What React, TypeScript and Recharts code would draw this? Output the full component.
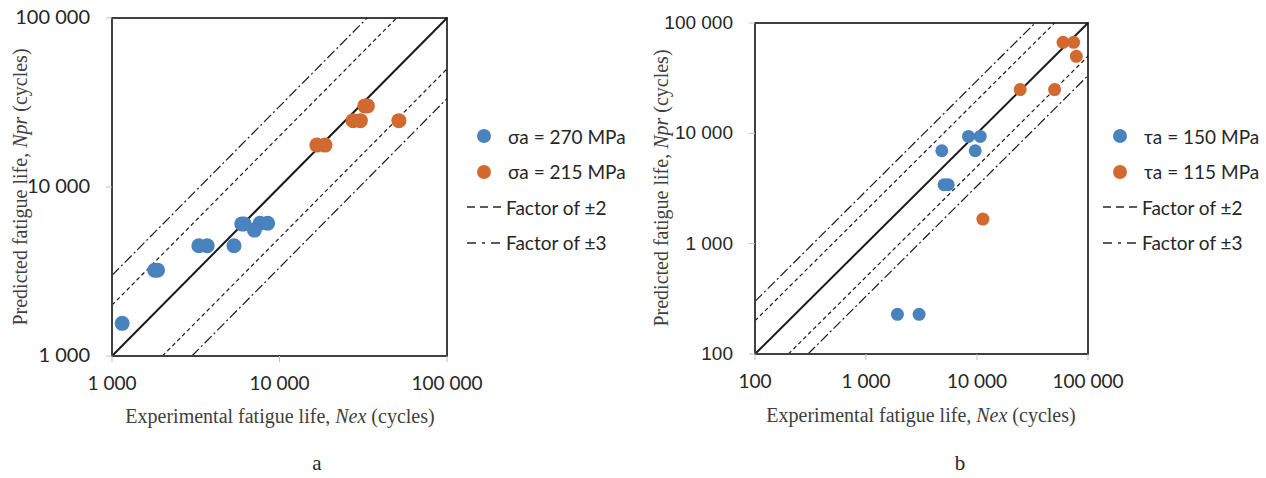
import React from 'react';
import {
  ScatterChart,
  Scatter,
  XAxis,
  YAxis,
  ReferenceLine,
  ReferenceArea,
} from 'recharts';

// chart a: normal stress
const leftTicks = [1000, 10000, 100000];
const sigma270 = [
  { x: 1150, y: 1560 },
  { x: 1800, y: 3220 },
  { x: 1870, y: 3220 },
  { x: 3300, y: 4490 },
  { x: 3700, y: 4490 },
  { x: 5350, y: 4490 },
  { x: 5950, y: 6050 },
  { x: 6150, y: 6050 },
  { x: 7080, y: 5560 },
  { x: 7650, y: 6100 },
  { x: 8500, y: 6100 },
];
const sigma215 = [
  { x: 16700, y: 17700 },
  { x: 18700, y: 17700 },
  { x: 27500, y: 24700 },
  { x: 30400, y: 24700 },
  { x: 32300, y: 30200 },
  { x: 33500, y: 30200 },
  { x: 51600, y: 24700 },
];

// chart b: shear stress
const rightTicks = [100, 1000, 10000, 100000];
const tau150 = [
  { x: 1920, y: 229 },
  { x: 3010, y: 229 },
  { x: 5050, y: 3420 },
  { x: 5500, y: 3420 },
  { x: 4820, y: 6950 },
  { x: 9640, y: 6950 },
  { x: 8380, y: 9380 },
  { x: 10700, y: 9380 },
];
const tau115 = [
  { x: 11300, y: 1670 },
  { x: 24500, y: 24900 },
  { x: 50000, y: 24900 },
  { x: 59600, y: 66800 },
  { x: 74300, y: 66800 },
  { x: 78500, y: 49900 },
];

const factorLines = [
  { f: 1, dash: undefined as string | undefined, width: 2 },
  { f: 2, dash: '4 3', width: 1.2 },
  { f: 1 / 2, dash: '4 3', width: 1.2 },
  { f: 3, dash: '10 3 2 3', width: 1.2 },
  { f: 1 / 3, dash: '10 3 2 3', width: 1.2 },
];

const BLUE = '#4a82bd';
const ORANGE = '#d2692e';
const BORDER = '#404040';

const fmt = (v: number) => String(v).replace(/\B(?=(\d{3})+(?!\d))/g, ' ');

// clip the line y = f*x to the square domain
const segmentFor = (f: number, min: number, max: number) =>
  f >= 1
    ? [{ x: min, y: min * f }, { x: max / f, y: max }]
    : [{ x: min / f, y: min }, { x: max, y: max * f }];

const dot = (r: number, color: string) => (props: any) =>
  <circle cx={props.cx} cy={props.cy} r={r} fill={color} />;

interface PanelProps {
  ticks: number[];
  s1: { x: number; y: number }[];
  s2: { x: number; y: number }[];
  width: number;
  height: number;
  margin: { top: number; right: number; bottom: number; left: number };
  yAxisWidth: number;
  xAxisHeight: number;
  r: number;
  yFont: string;
  yFontSize: number;
  xFont: string;
}

const Panel: React.FC<PanelProps> = ({ ticks, s1, s2, width, height, margin, yAxisWidth, xAxisHeight, r, yFont, yFontSize, xFont }) => {
  const min = ticks[0];
  const max = ticks[ticks.length - 1];
  return (
    <ScatterChart width={width} height={height} margin={margin}>
      <XAxis
        type="number"
        dataKey="x"
        scale="log"
        domain={[min, max]}
        ticks={ticks}
        allowDataOverflow
        height={xAxisHeight}
        axisLine={{ stroke: BORDER, strokeWidth: 2 }}
        tickLine={{ stroke: '#c0c0c0' }}
        tickSize={6}
        tick={(p: any) => (
          <text x={p.x} y={p.y + 26} textAnchor="middle" fontFamily={xFont} fontSize={19} fill="#262626">
            {fmt(p.payload.value)}
          </text>
        )}
      />
      <YAxis
        type="number"
        dataKey="y"
        scale="log"
        domain={[min, max]}
        ticks={ticks}
        allowDataOverflow
        width={yAxisWidth}
        axisLine={{ stroke: BORDER, strokeWidth: 2 }}
        tickLine={{ stroke: '#c0c0c0' }}
        tickSize={6}
        tick={(p: any) => (
          <text x={p.x - 14} y={p.y + 6} textAnchor="end" fontFamily={yFont} fontSize={yFontSize} fill="#262626">
            {fmt(p.payload.value)}
          </text>
        )}
      />
      <ReferenceArea x1={min} x2={max} y1={min} y2={max} fill="none" fillOpacity={0} stroke={BORDER} strokeWidth={2} ifOverflow="visible" />
      {factorLines.map((l, i) => (
        <ReferenceLine
          key={i}
          segment={segmentFor(l.f, min, max)}
          stroke="#1a1a1a"
          strokeWidth={l.width}
          strokeDasharray={l.dash}
          ifOverflow="visible"
        />
      ))}
      <Scatter data={s1} shape={dot(r, BLUE)} isAnimationActive={false} />
      <Scatter data={s2} shape={dot(r, ORANGE)} isAnimationActive={false} />
    </ScatterChart>
  );
};

const legendText: React.CSSProperties = { fontFamily: 'Lato', fontSize: 19, color: '#262626', whiteSpace: 'nowrap' };
const titleStyle: React.CSSProperties = { fontFamily: 'Liberation Serif', fontSize: 20, color: '#404040', whiteSpace: 'nowrap' };

const Legend: React.FC<{ left: number; top: number; labels: string[] }> = ({ left, top, labels }) => {
  const rows = [
    { kind: 'dot', color: BLUE, label: labels[0] },
    { kind: 'dot', color: ORANGE, label: labels[1] },
    { kind: 'line', dash: '8 5 8 5 8', label: 'Factor of ±2' },
    { kind: 'line', dash: '9 6 3 6 9', label: 'Factor of ±3' },
  ];
  return (
    <div style={{ position: 'absolute', left, top }}>
      {rows.map((row, i) => (
        <div key={i} style={{ position: 'absolute', top: i * 35.5, left: 0, height: 24, display: 'flex', alignItems: 'center' }}>
          <svg width={38} height={24} style={{ display: 'block' }}>
            {row.kind === 'dot' ? (
              <circle cx={18} cy={12} r={7} fill={row.color} />
            ) : (
              <line x1={1} y1={12} x2={35} y2={12} stroke="#262626" strokeWidth={1.6} strokeDasharray={row.dash} />
            )}
          </svg>
          <span style={{ ...legendText, marginLeft: row.kind === 'dot' ? 4 : 2 }}>{row.label}</span>
        </div>
      ))}
    </div>
  );
};

const AxisTitle: React.FC<{ text: string; italic: string; style: React.CSSProperties }> = ({ text, italic, style }) => (
  <div style={{ ...titleStyle, position: 'absolute', ...style }}>
    {text}
    <i>{italic}</i> (cycles)
  </div>
);

export default function App() {
  return (
    <div style={{ position: 'absolute', left: 0, top: 0, width: 1266, height: 478, background: '#fff' }}>
      <div style={{ position: 'absolute', left: 0, top: 0 }}>
        <Panel
          ticks={leftTicks}
          s1={sigma270}
          s2={sigma215}
          width={640}
          height={400}
          margin={{ top: 18, right: 193, bottom: 0, left: 0 }}
          yAxisWidth={112}
          xAxisHeight={44}
          r={7.5}
          yFont="Lato"
          yFontSize={20}
          xFont="Lato"
        />
      </div>
      <div style={{ position: 'absolute', left: 640, top: 0 }}>
        <Panel
          ticks={rightTicks}
          s1={tau150}
          s2={tau115}
          width={626}
          height={400}
          margin={{ top: 23, right: 178, bottom: 0, left: 0 }}
          yAxisWidth={115}
          xAxisHeight={46}
          r={6.5}
          yFont="Liberation Sans"
          yFontSize={19}
          xFont="Lato"
        />
      </div>

      <Legend left={466} top={124} labels={['σa = 270 MPa', 'σa = 215 MPa']} />
      <Legend left={1102} top={124} labels={['τa = 150 MPa', 'τa = 115 MPa']} />

      <AxisTitle text="Experimental fatigue life, " italic="Nex" style={{ left: 280, top: 405, transform: 'translateX(-50%)' }} />
      <AxisTitle text="Experimental fatigue life, " italic="Nex" style={{ left: 921, top: 404, transform: 'translateX(-50%)' }} />
      <AxisTitle text="Predicted fatigue life, " italic="Npr" style={{ left: 20, top: 187, transform: 'translate(-50%, -50%) rotate(-90deg)' }} />
      <AxisTitle text="Predicted fatigue life, " italic="Npr" style={{ left: 661, top: 188, transform: 'translate(-50%, -50%) rotate(-90deg)' }} />

      <div style={{ ...titleStyle, position: 'absolute', left: 317, top: 451, fontSize: 21, color: '#262626', transform: 'translateX(-50%)' }}>a</div>
      <div style={{ ...titleStyle, position: 'absolute', left: 960, top: 451, fontSize: 21, color: '#262626', transform: 'translateX(-50%)' }}>b</div>
    </div>
  );
}
